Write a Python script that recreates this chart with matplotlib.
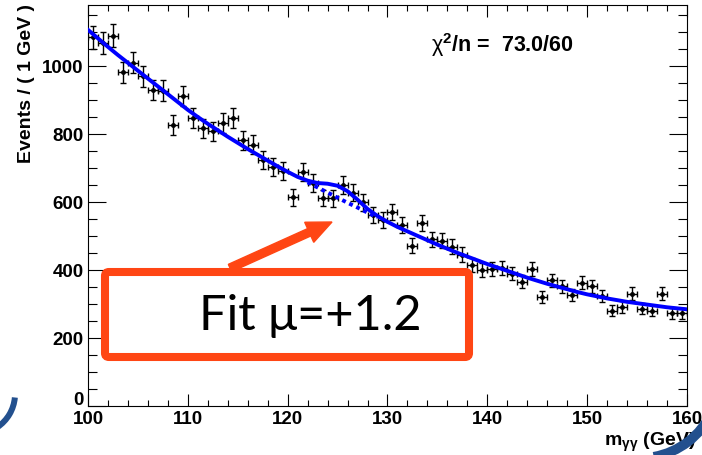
import matplotlib.pyplot as plt
from matplotlib.patches import FancyBboxPatch, FancyArrow, Arc
from matplotlib.ticker import MultipleLocator, FuncFormatter
import numpy as np

plt.rcParams['font.family'] = ['Liberation Sans', 'DejaVu Sans']
plt.rcParams['mathtext.fontset'] = 'custom'
plt.rcParams['mathtext.rm'] = 'Liberation Sans'
plt.rcParams['mathtext.bf'] = 'Liberation Sans:bold'
plt.rcParams['mathtext.it'] = 'Liberation Sans:italic'

# diphoton mass histogram, 1 GeV bins
bin_centers = np.arange(100.5, 160.0, 1.0)
events = [1083, 1066, 1088, 980, 1009, 968, 928, 926, 825, 911,
          846, 816, 807, 831, 846, 781, 767, 722, 703, 691,
          613, 687, 655, 611, 610, 649, 627, 598, 561, 547,
          569, 532, 471, 537, 490, 486, 468, 445, 413, 400,
          402, 405, 389, 365, 402, 321, 370, 352, 326, 362,
          352, 324, 280, 291, 330, 286, 280, 330, 272, 272]

# fitted curve (background + signal bump)
fit_mass = np.arange(100.0, 161.0, 1.0)
fit_bkg = [1105, 1080, 1055, 1031, 1008, 985, 962, 939, 916, 893,
           870, 849, 829, 810, 791, 773, 755, 738, 721, 704,
           688, 672, 657, 642, 627, 612, 597, 583, 568, 554,
           540, 526, 513, 500, 487, 474, 462, 450, 439, 428,
           417, 407, 397, 387, 377, 368, 359, 351, 343, 335,
           328, 322, 316, 311, 306, 302, 298, 294, 290, 287, 284]
fit_sig = [0] * 21 + [1, 5, 13, 26, 35, 34, 23, 11, 4, 1] + [0] * 30

chi2_text = r'$\mathrm{\chi}^{\mathbf{2}}$/n =  73.0/60'
fit_label = 'Fit \u03bc=+1.2'

fig = plt.figure(figsize=(7.02, 4.56), dpi=100)
ax = fig.add_axes([88 / 702, 49 / 456, 599 / 702, 401 / 456])

total = np.array(fit_bkg) + np.array(fit_sig)
ax.errorbar(bin_centers, events, xerr=0.5, yerr=np.sqrt(events),
            fmt='o', ms=2.5, color='black', ecolor='black', elinewidth=1.0,
            capsize=2.5, capthick=1.0, zorder=2)
ax.plot(fit_mass, total, color='#0000ff', lw=2.8, zorder=3)
sel = (fit_mass >= 122) & (fit_mass <= 129)
ax.plot(fit_mass[sel], np.array(fit_bkg)[sel], color='#0000ff', lw=2.8,
        ls=(0, (1, 1)), zorder=3)

ax.set_xlim(100, 160)
ax.set_ylim(0, 1178)
ax.xaxis.set_major_locator(MultipleLocator(10))
ax.xaxis.set_minor_locator(MultipleLocator(2))
ax.yaxis.set_major_locator(MultipleLocator(200))
ax.yaxis.set_minor_locator(MultipleLocator(50))
# "0" is drawn by hand a bit higher so it does not sit on "100"
ax.yaxis.set_major_formatter(FuncFormatter(lambda v, p: '' if v == 0 else '%d' % v))
ax.tick_params(which='both', direction='in', top=True, right=True, width=0.8,
               labelsize=13.5, pad=3)
ax.tick_params(axis='x', which='major', length=8.6)
ax.tick_params(axis='x', which='minor', length=4.3)
ax.tick_params(axis='y', which='major', length=13)
ax.tick_params(axis='y', which='minor', length=6.5)
for lab in ax.get_xticklabels() + ax.get_yticklabels():
    lab.set_fontweight('bold')
for sp in ax.spines.values():
    sp.set_linewidth(0.8)

fig.text(84 / 702, 1 - 401 / 456, '0', ha='right', va='center',
         fontsize=13.5, fontweight='bold')
fig.text(27 / 702, 1 - 4 / 456, 'Events / ( 1 GeV )', rotation=90,
         ha='center', va='top', fontsize=14, fontweight='bold')
fig.text(604 / 702, 1 - 446 / 456, r'm$_{\mathbf{\gamma\gamma}}$ (GeV)',
         ha='left', va='baseline', fontsize=14, fontweight='bold')
fig.text(431 / 702, 1 - 52 / 456, chi2_text, ha='left', va='baseline',
         fontsize=15.5, fontweight='bold')

# annotation box and arrow
orange = '#ff4614'
arrow = FancyArrow(2.30, 1.87, 1.02, 0.46, width=0.08, head_width=0.22,
                   head_length=0.25, length_includes_head=True,
                   color=orange, transform=fig.dpi_scale_trans, zorder=5)
fig.add_artist(arrow)
box = FancyBboxPatch((1.05, 0.98), 3.64, 0.85,
                     boxstyle='round,pad=0,rounding_size=0.04',
                     facecolor='white', edgecolor=orange, lw=5.8,
                     transform=fig.dpi_scale_trans, zorder=6)
fig.add_artist(box)
fig.text(3.10 / 7.02, 1.40 / 4.56, fit_label, ha='center', va='center',
         fontsize=35, family=['Lato', 'DejaVu Sans'], zorder=7)

# slide decoration arcs
navy = '#23508e'
fig.add_artist(Arc((-0.25, 0.61), 0.80, 0.80, theta1=-56, theta2=-5,
                   color=navy, lw=4.3, transform=fig.dpi_scale_trans))
fig.add_artist(Arc((6.40, 0.76), 1.58, 1.58, theta1=-80, theta2=-25,
                   color=navy, lw=7, transform=fig.dpi_scale_trans, zorder=8))

fig.savefig('out.png', dpi=100)
